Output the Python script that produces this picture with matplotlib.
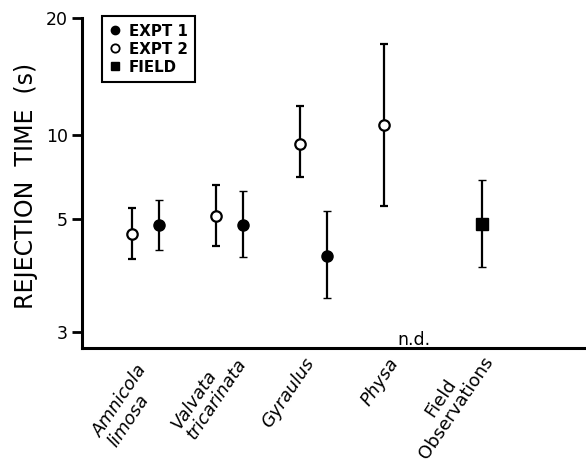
import numpy as np
import matplotlib
matplotlib.use("Agg")
import matplotlib.pyplot as plt
from matplotlib.lines import Line2D
from matplotlib.ticker import FixedLocator, NullLocator, FuncFormatter
import matplotlib.transforms as mtransforms

# Snail taxa along the x axis
groups = ["Amnicola\nlimosa", "Valvata\ntricarinata", "Gyraulus", "Physa", "Field\nObservations"]
italic_groups = [True, True, True, True, False]

# Experiment 1 (filled circles): mean and range, Physa not determined
expt1_idx = [0, 1, 2]
expt1_mean = [4.86, 4.86, 4.23]
expt1_low = [4.35, 4.21, 3.49]
expt1_high = [5.85, 6.30, 5.35]

# Experiment 2 (open circles)
expt2_idx = [0, 1, 2, 3]
expt2_mean = [4.67, 5.11, 9.29, 10.61]
expt2_low = [4.18, 4.42, 7.07, 5.55]
expt2_high = [5.46, 6.62, 11.88, 17.18]

# Field observations (filled square)
field_idx = [4]
field_mean = [4.88]
field_low = [4.02]
field_high = [6.88]

nd_idx = 3
y_ticks = [3, 5, 10, 20]

# Hand-ruled logarithmic axis: knot values and their relative heights
knot_vals = np.log10([3, 5, 10, 20])
knot_pos = np.array([0.0, 113.0, 197.0, 314.0])

# Hand-lettered category labels: line alignment and small offsets (px)
label_align = ["left", "left", "left", "left", "center"]
label_nudge = [(-10, -6), (-10, 10), (-10, 0), (-10, 0), (-15, 12)]


def _piecewise(x, xp, fp):
    x = np.asarray(x, dtype=float)
    y = np.interp(x, xp, fp)
    lo_slope = (fp[1] - fp[0]) / (xp[1] - xp[0])
    hi_slope = (fp[-1] - fp[-2]) / (xp[-1] - xp[-2])
    y = np.where(x < xp[0], fp[0] + (x - xp[0]) * lo_slope, y)
    y = np.where(x > xp[-1], fp[-1] + (x - xp[-1]) * hi_slope, y)
    return y


def _forward(v):
    v = np.clip(np.asarray(v, dtype=float), 1e-3, None)
    return _piecewise(np.log10(v), knot_vals, knot_pos)


def _inverse(c):
    return 10 ** _piecewise(c, knot_pos, knot_vals)


W, H = 586, 469
fig = plt.figure(figsize=(W / 100, H / 100), dpi=100)
ax = fig.add_axes([82 / W, 1 - 348 / H, 1 - 82 / W, 330 / H])
ax.set_yscale("function", functions=(_forward, _inverse))

off = 0.155
err_kw = dict(ecolor="black", elinewidth=1.6, capsize=2.6, capthick=1.6, linestyle="none", zorder=3)


def _err(mean, low, high):
    mean = np.asarray(mean); low = np.asarray(low); high = np.asarray(high)
    return [mean - low, high - mean]


ax.errorbar(np.array(expt2_idx) - off, expt2_mean, yerr=_err(expt2_mean, expt2_low, expt2_high),
            marker="o", ms=7.5, mfc="white", mec="black", mew=1.6, **err_kw)
ax.errorbar(np.array(expt1_idx) + off, expt1_mean, yerr=_err(expt1_mean, expt1_low, expt1_high),
            marker="o", ms=8, mfc="black", mec="black", mew=1.0, **err_kw)
ax.errorbar(field_idx, field_mean, yerr=_err(field_mean, field_low, field_high),
            marker="s", ms=8, mfc="black", mec="black", mew=1.0, **err_kw)

ax.set_ylim(2.79, 20)
ax.set_xlim(-0.756, 5.244)

ax.yaxis.set_major_locator(FixedLocator(y_ticks))
ax.yaxis.set_minor_locator(NullLocator())
ax.yaxis.set_major_formatter(FuncFormatter(lambda v, p: f"{v:g}"))
ax.tick_params(axis="y", direction="out", length=7, width=2, pad=3, labelsize=12.5)

ax.set_xticks(range(len(groups)))
ax.set_xticklabels(groups)
ax.tick_params(axis="x", length=0, pad=5)
for lab, it, al, (dx, dy) in zip(ax.get_xticklabels(), italic_groups, label_align, label_nudge):
    lab.set_rotation(56)
    lab.set_ha("right")
    lab.set_va("top")
    lab.set_rotation_mode("anchor")
    lab.set_multialignment(al)
    lab.set_linespacing(1.05)
    lab.set_fontsize(13)
    lab.set_fontstyle("italic" if it else "normal")
    shift = mtransforms.ScaledTranslation(dx / 100, dy / 100, fig.dpi_scale_trans)
    lab.set_transform(lab.get_transform() + shift)

for side in ("top", "right"):
    ax.spines[side].set_visible(False)
for side in ("left", "bottom"):
    ax.spines[side].set_linewidth(2.2)

ax.set_ylabel("REJECTION  TIME  (s)", fontsize=17)
ax.yaxis.set_label_coords(-0.088, 0.49)

trans = mtransforms.blended_transform_factory(ax.transData, ax.transAxes)
ax.text(nd_idx + 0.2, -0.004, "n.d.", transform=trans, ha="center", va="bottom", fontsize=12.5)

handles = [
    Line2D([], [], linestyle="none", marker="o", ms=6, mfc="black", mec="black"),
    Line2D([], [], linestyle="none", marker="o", ms=6, mfc="white", mec="black", mew=1.3),
    Line2D([], [], linestyle="none", marker="s", ms=6, mfc="black", mec="black"),
]
leg = fig.legend(handles, ["EXPT 1", "EXPT 2", "FIELD"], loc="upper left",
                 bbox_to_anchor=(101.7 / W, 1 - 16 / H), borderaxespad=0,
                 prop=dict(size=10.8, weight="bold"), handlelength=0.8, handletextpad=0.5,
                 labelspacing=0.2, borderpad=0.5, fancybox=False, framealpha=1)
leg.get_frame().set_edgecolor("black")
leg.get_frame().set_linewidth(1.5)

fig.savefig("out.png", dpi=100)
